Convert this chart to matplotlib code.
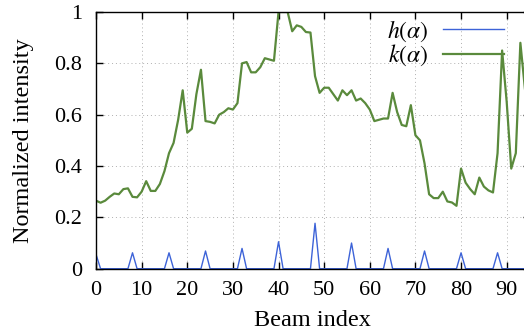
import numpy as np
import matplotlib
matplotlib.use("Agg")
import matplotlib.pyplot as plt
from matplotlib.ticker import FormatStrFormatter

# ----------------------------------------------------------------------
# DATA
# ----------------------------------------------------------------------

beam_index = np.arange(96)

# h(alpha): narrow spikes every 8 beams
h_vals = [
    0.056, 0, 0, 0, 0, 0, 0, 0, 0.062, 0, 0, 0, 0, 0, 0, 0,
    0.062, 0, 0, 0, 0, 0, 0, 0, 0.069, 0, 0, 0, 0, 0, 0, 0,
    0.079, 0, 0, 0, 0, 0, 0, 0, 0.105, 0, 0, 0, 0, 0, 0, 0,
    0.177, 0, 0, 0, 0, 0, 0, 0, 0.100, 0, 0, 0, 0, 0, 0, 0,
    0.079, 0, 0, 0, 0, 0, 0, 0, 0.069, 0, 0, 0, 0, 0, 0, 0,
    0.062, 0, 0, 0, 0, 0, 0, 0, 0.062, 0, 0, 0, 0, 0, 0, 0,
]

# k(alpha): normalized beam intensity
k_vals = [
    0.265, 0.257, 0.265, 0.280, 0.293, 0.290, 0.310, 0.313, 0.280, 0.278,
    0.300, 0.341, 0.303, 0.303, 0.330, 0.380, 0.450, 0.490, 0.580, 0.695,
    0.530, 0.545, 0.680, 0.775, 0.575, 0.572, 0.566, 0.600, 0.610, 0.625,
    0.620, 0.645, 0.800, 0.805, 0.765, 0.765, 0.785, 0.820, 0.815, 0.810,
    1.000, 1.000, 1.000, 0.925, 0.948, 0.942, 0.922, 0.920, 0.750, 0.685,
    0.705, 0.705, 0.680, 0.655, 0.695, 0.676, 0.695, 0.655, 0.663, 0.645,
    0.620, 0.575, 0.580, 0.585, 0.585, 0.685, 0.610, 0.560, 0.555, 0.637,
    0.520, 0.500, 0.410, 0.290, 0.275, 0.275, 0.300, 0.262, 0.258, 0.245,
    0.390, 0.335, 0.310, 0.290, 0.355, 0.320, 0.305, 0.297, 0.450, 0.850,
    0.650, 0.390, 0.450, 0.880, 0.700, 0.600,
]

# ----------------------------------------------------------------------
# PLOT
# ----------------------------------------------------------------------

plt.rcParams["font.family"] = ["Liberation Serif", "DejaVu Serif"]
plt.rcParams["mathtext.fontset"] = "stix"

fig = plt.figure(figsize=(5.24, 3.35), dpi=100)
# right spine sits just past the picture edge, as in the cropped original
ax = fig.add_axes([96 / 524, 66.3 / 335, 433.5 / 524, 256.7 / 335])

ax.plot(beam_index, h_vals, color="#3d63d8", linewidth=1.0, label=r"$h(\alpha)$")
ax.plot(beam_index, k_vals, color="#5a8a3c", linewidth=1.6, label=r"$k(\alpha)$")

ax.set_xlim(0, 95)
ax.set_ylim(0, 1)
ax.set_xticks(np.arange(0, 91, 10))
ax.set_yticks(np.arange(0, 1.01, 0.2))
ax.yaxis.set_major_formatter(FormatStrFormatter("%g"))

ax.grid(True, linestyle=(0, (1, 3)), color="#b0b0b0", linewidth=0.7)
ax.tick_params(direction="in", top=True, right=True, length=5, width=1,
               labelsize=16)
ax.tick_params(axis="x", pad=9)
ax.tick_params(axis="y", pad=10)
for s in ax.spines.values():
    s.set_linewidth(1.0)

ax.set_xlabel("Beam index", fontsize=17.5, va="center")
ax.set_ylabel("Normalized intensity", fontsize=17.5, va="center")
ax.xaxis.set_label_coords(0.5, -0.2)
ax.yaxis.set_label_coords(-0.168, 0.5)

ax.legend(loc="upper right", bbox_to_anchor=(0.941, 0.975), frameon=False,
          markerfirst=False, fontsize=17, handlelength=2.6,
          handletextpad=0.6, labelspacing=-0.05, borderpad=0,
          borderaxespad=0)

fig.savefig("out.png", dpi=100)
